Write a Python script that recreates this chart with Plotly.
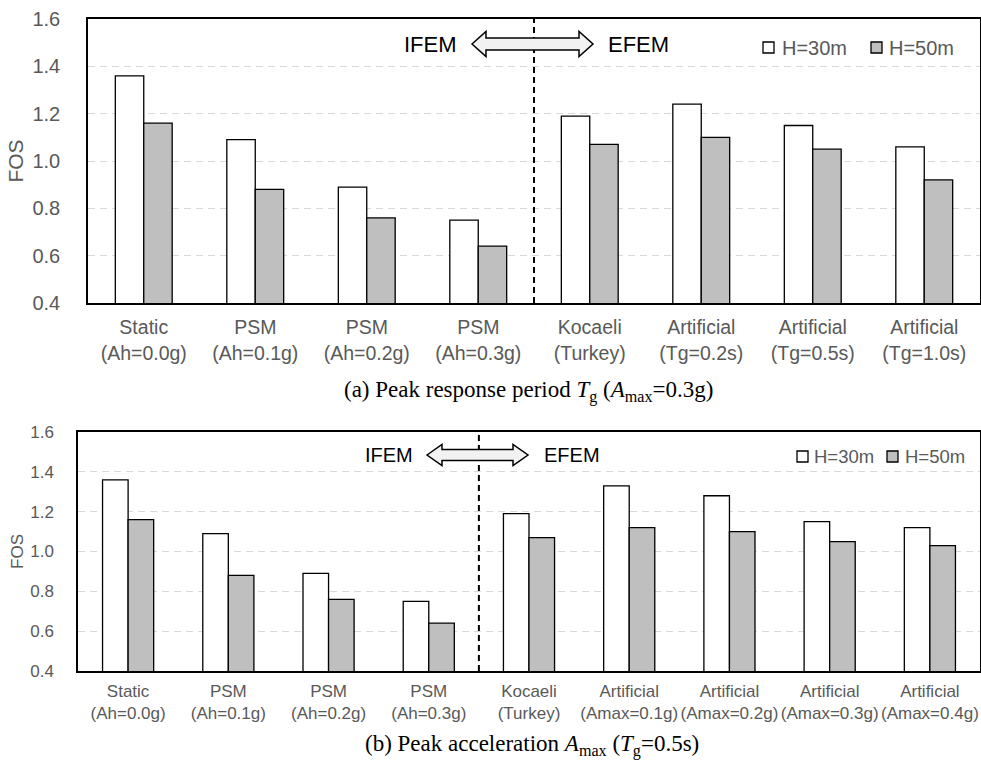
import plotly.graph_objects as go

# ---- data ----
cats_a = ["Static<br>(Ah=0.0g)", "PSM<br>(Ah=0.1g)", "PSM<br>(Ah=0.2g)", "PSM<br>(Ah=0.3g)",
          "Kocaeli<br>(Turkey)", "Artificial<br>(Tg=0.2s)", "Artificial<br>(Tg=0.5s)",
          "Artificial<br>(Tg=1.0s)"]
h30_a = [1.36, 1.09, 0.89, 0.75, 1.19, 1.24, 1.15, 1.06]
h50_a = [1.16, 0.88, 0.76, 0.64, 1.07, 1.10, 1.05, 0.92]

cats_b = ["Static<br>(Ah=0.0g)", "PSM<br>(Ah=0.1g)", "PSM<br>(Ah=0.2g)", "PSM<br>(Ah=0.3g)",
          "Kocaeli<br>(Turkey)", "Artificial<br>(Amax=0.1g)", "Artificial<br>(Amax=0.2g)",
          "Artificial<br>(Amax=0.3g)", "Artificial<br>(Amax=0.4g)"]
h30_b = [1.36, 1.09, 0.89, 0.75, 1.19, 1.33, 1.28, 1.15, 1.12]
h50_b = [1.16, 0.88, 0.76, 0.64, 1.07, 1.12, 1.10, 1.05, 1.03]

series_names = ["H=30m", "H=50m"]
y_ticks = [0.4, 0.6, 0.8, 1.0, 1.2, 1.4, 1.6]
y_tick_text = ["0.4", "0.6", "0.8", "1.0", "1.2", "1.4", "1.6"]
caption_a = "(a) Peak response period <i>T</i><sub>g</sub> (<i>A</i><sub>max</sub>=0.3g)"
caption_b = "(b) Peak acceleration <i>A</i><sub>max</sub> (<i>T</i><sub>g</sub>=0.5s)"

# ---- styling ----
W, H = 981, 763
SANS = "Liberation Sans, Arial, sans-serif"
SERIF = "Liberation Serif, Times New Roman, serif"
GREY_TXT = "#595959"
FILLS = ["#ffffff", "#bfbfbf"]


def px(x):
    return x / W


def py(y):
    return 1 - y / H


fig = go.Figure()

for xa, ya, cats, vals in (("x", "y", cats_a, (h30_a, h50_a)),
                           ("x2", "y2", cats_b, (h30_b, h50_b))):
    for name, v, c in zip(series_names, vals, FILLS):
        fig.add_trace(go.Bar(
            x=cats, y=v, name=name, xaxis=xa, yaxis=ya, showlegend=False,
            marker=dict(color=c, line=dict(color="#000000", width=1.3)),
        ))


def yaxis_style(domain, fs, standoff, title_fs, title_standoff):
    return dict(
        domain=domain, range=[0.4, 1.6], tickvals=y_ticks, ticktext=y_tick_text,
        showline=True, linecolor="#000000", linewidth=1.5, mirror=True,
        showgrid=True, gridcolor="#d9d9d9", gridwidth=1, griddash="7px,5px",
        ticks="", ticklabelstandoff=standoff, zeroline=False,
        tickfont=dict(family=SANS, size=fs, color=GREY_TXT),
        title=dict(text="FOS", font=dict(family=SANS, size=title_fs, color=GREY_TXT),
                   standoff=title_standoff),
    )


def xaxis_style(domain, anchor, fs, standoff):
    return dict(
        domain=domain, anchor=anchor, type="category",
        showline=True, linecolor="#000000", linewidth=1.5, mirror=True,
        ticks="", ticklabelstandoff=standoff, showgrid=False,
        tickfont=dict(family=SANS, size=fs, color=GREY_TXT),
    )


# Panel (a): plot box 88..980 x, 19..303 y ; Panel (b): 78..980 x, 432..671 y
fig.update_layout(
    width=W, height=H, template="none",
    margin=dict(l=0, r=0, t=0, b=0, autoexpand=False),
    paper_bgcolor="white", plot_bgcolor="white",
    barmode="group", bargap=0.49, bargroupgap=0.0,
    xaxis=xaxis_style([px(88), px(980)], "y", 19.5, 6),
    yaxis=yaxis_style([py(303), py(19)], 20, 22, 21, 3),
    xaxis2=xaxis_style([px(78), px(980)], "y2", 17, 4),
    yaxis2=yaxis_style([py(671), py(432)], 17, 19, 17, 2),
)
fig.update_layout(yaxis2=dict(anchor="x2"))


def dbl_arrow(x0, x1, yc, head, hh, sh):
    """Closed path for a two-headed block arrow in paper coordinates."""
    pts = [(x0, yc), (x0 + head, yc - hh), (x0 + head, yc - sh), (x1 - head, yc - sh),
           (x1 - head, yc - hh), (x1, yc), (x1 - head, yc + hh), (x1 - head, yc + sh),
           (x0 + head, yc + sh), (x0 + head, yc + hh)]
    return "M " + " L ".join(f"{px(a):.5f},{py(b):.5f}" for a, b in pts) + " Z"


shapes = []
annotations = []

panels = [
    dict(xr="x", yr="y", arrow=(472, 593, 44, 14, 12.5, 6), ifem=459, efem=606, ty=44, fs=22,
         sq=[(763, 42), (871, 42)], sqs=11, tx=[780, 887], ly=47.5, lfs=20),
    dict(xr="x2", yr="y2", arrow=(427, 528, 455, 15, 10.5, 5.5), ifem=415, efem=542, ty=455, fs=20,
         sq=[(797, 451), (887, 451)], sqs=11, tx=[812, 903], ly=456.5, lfs=18.5),
]

for p in panels:
    # separator between the IFEM and EFEM groups
    shapes.append(dict(type="line", xref=p["xr"], yref=p["yr"], x0=3.5, x1=3.5, y0=0.4, y1=1.6,
                       line=dict(color="#000000", width=2, dash="6px,4px"), layer="above"))
    shapes.append(dict(type="path", xref="paper", yref="paper", path=dbl_arrow(*p["arrow"]),
                       fillcolor="#f2f2f2", line=dict(color="#000000", width=1.5)))
    annotations.append(dict(text="IFEM", xref="paper", yref="paper", x=px(p["ifem"]), y=py(p["ty"]),
                            xanchor="right", yanchor="middle", showarrow=False,
                            font=dict(family=SANS, size=p["fs"], color="#000000")))
    annotations.append(dict(text="EFEM", xref="paper", yref="paper", x=px(p["efem"]), y=py(p["ty"]),
                            xanchor="left", yanchor="middle", showarrow=False,
                            font=dict(family=SANS, size=p["fs"], color="#000000")))
    # legend keys
    for (sx, sy), tx, name, c in zip(p["sq"], p["tx"], series_names, FILLS):
        s = p["sqs"]
        shapes.append(dict(type="rect", xref="paper", yref="paper",
                           x0=px(sx), x1=px(sx + s), y0=py(sy + s), y1=py(sy),
                           fillcolor=c, line=dict(color="#000000", width=1.3)))
        annotations.append(dict(text=name, xref="paper", yref="paper", x=px(tx), y=py(p["ly"]),
                                xanchor="left", yanchor="middle", showarrow=False,
                                font=dict(family=SANS, size=p["lfs"], color=GREY_TXT)))

annotations.append(dict(text=caption_a, xref="paper", yref="paper", x=px(528), y=py(391),
                        xanchor="center", yanchor="middle", showarrow=False,
                        font=dict(family=SERIF, size=23, color="#000000")))
annotations.append(dict(text=caption_b, xref="paper", yref="paper", x=px(532), y=py(745),
                        xanchor="center", yanchor="middle", showarrow=False,
                        font=dict(family=SERIF, size=23, color="#000000")))

fig.update_layout(shapes=shapes, annotations=annotations)
fig.write_html("out.html")
